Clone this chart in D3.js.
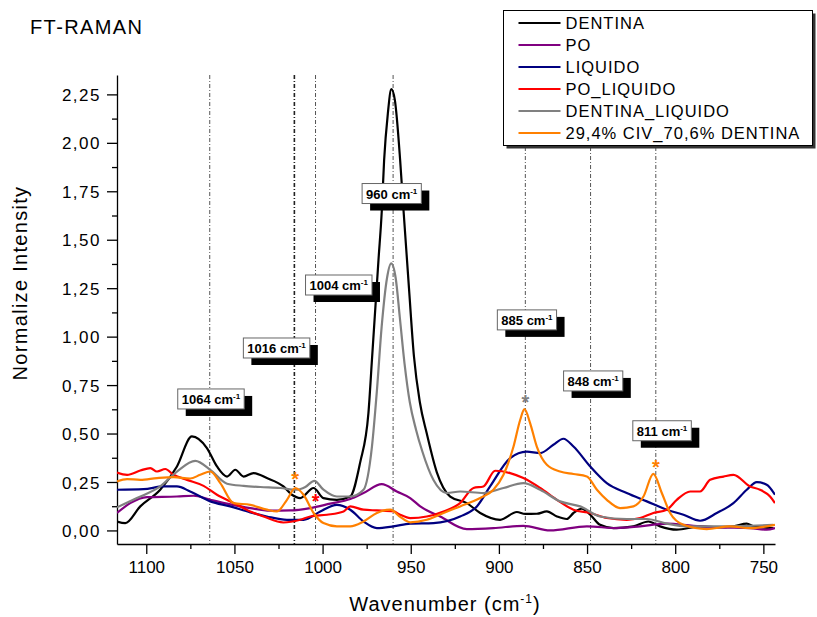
<!DOCTYPE html>
<html>
<head>
<meta charset="utf-8">
<script src="https://cdnjs.cloudflare.com/ajax/libs/d3/7.8.5/d3.min.js"></script>
<style>
  body { margin: 0; background: #fff; }
  text { font-family: "Liberation Sans", Arial, sans-serif; }
</style>
</head>
<body>
<div id="chart"></div>
<script>
// ---- data (wavenumber cm-1, normalized intensity) ----
const dentina = [[1116.6,0.046],[1111.9,0.038],[1103.4,0.124],[1092.1,0.21],[1082.6,0.33],[1074.1,0.485],[1065.6,0.425],[1059.9,0.33],[1054.2,0.278],[1049.5,0.313],[1044.8,0.278],[1039.2,0.296],[1031.6,0.27],[1022.2,0.227],[1017.4,0.184],[1012.7,0.167],[1005.1,0.219],[999.5,0.167],[991.9,0.158],[984.3,0.175],[978.7,0.35],[974.0,0.605],[972.0,0.88],[968.3,1.395],[966.4,1.652],[965.1,1.91],[963,2.15],[961,2.277],[959,2.22],[956,1.91],[954.1,1.652],[951,1.25],[948.2,0.9],[944.8,0.66],[940.9,0.5],[935.2,0.3],[927.6,0.175],[918.2,0.141],[910.6,0.09],[899.3,0.055],[889.8,0.095],[885.1,0.085],[878.5,0.086],[872.8,0.098],[867.1,0.072],[861.5,0.059],[857.7,0.09],[853.0,0.112],[848.2,0.081],[842.6,0.029],[835.0,0.012],[823.7,0.021],[815.2,0.046],[808.6,0.021],[799.1,0.004],[785.9,0.021],[776.4,0.016],[767.0,0.021],[759.4,0.035],[755.6,0.021],[744.3,0.012]];

const po = [[1116.6,0.09],[1109.1,0.141],[1099.6,0.172],[1082.6,0.175],[1073.2,0.179],[1063.7,0.158],[1054.2,0.138],[1041.0,0.115],[1029.7,0.102],[1018.4,0.103],[1007.0,0.115],[995.7,0.138],[984.3,0.162],[976.8,0.193],[966.4,0.239],[957.9,0.201],[950.3,0.167],[944.6,0.124],[933.3,0.072],[918.2,0.007],[903.1,0.012],[886.1,0.024],[871.0,0.0],[850.1,0.021],[833.1,0.012],[819.9,0.021],[804.8,0.035],[789.7,0.024],[774.6,0.016],[757.5,0.012],[748.1,0.004],[743.4,0.012]];

const liquido = [[1116.6,0.21],[1101.5,0.213],[1090.2,0.227],[1082.6,0.227],[1075.1,0.201],[1063.7,0.15],[1052.4,0.124],[1041.0,0.093],[1031.6,0.072],[1020.2,0.055],[1010.8,0.055],[1001.3,0.098],[991.9,0.132],[984.3,0.107],[976.8,0.046],[969.2,0.012],[959.8,0.021],[950.3,0.035],[937.1,0.038],[922.0,0.072],[912.5,0.124],[905.0,0.227],[893.6,0.373],[884.2,0.407],[876.6,0.399],[869.1,0.442],[863.4,0.473],[857.7,0.433],[848.2,0.33],[838.8,0.244],[827.5,0.193],[816.1,0.15],[804.8,0.107],[795.3,0.081],[785.9,0.05],[776.4,0.09],[767.0,0.141],[759.4,0.21],[753.7,0.249],[748.1,0.236],[743.4,0.184]];

const poLiquido = [[1116.6,0.299],[1110.9,0.287],[1103.4,0.309],[1097.7,0.322],[1093.9,0.304],[1089.2,0.317],[1084.5,0.287],[1076.9,0.261],[1067.5,0.23],[1059.9,0.184],[1050.5,0.141],[1041.0,0.098],[1033.5,0.072],[1022.2,0.041],[1012.7,0.055],[1007.0,0.072],[997.5,0.081],[988.1,0.098],[984.3,0.124],[976.8,0.107],[969.2,0.103],[959.8,0.098],[956,0.081],[950.3,0.064],[940.9,0.072],[931.4,0.098],[922.0,0.141],[914.4,0.219],[908.8,0.227],[902.1,0.308],[893.6,0.296],[886.1,0.27],[876.6,0.219],[867.1,0.158],[857.7,0.107],[848.2,0.09],[838.8,0.064],[827.5,0.055],[819.9,0.064],[812.4,0.09],[804.8,0.107],[799.1,0.158],[791.5,0.201],[785.9,0.201],[780.2,0.261],[772.6,0.278],[767.0,0.287],[757.5,0.227],[751.9,0.21],[746.2,0.175],[743.4,0.141]];

const dentinaLiquido = [[1116.6,0.119],[1105.3,0.167],[1092.1,0.227],[1082.6,0.304],[1072.2,0.359],[1063.7,0.313],[1054.2,0.241],[1044.8,0.23],[1035.4,0.224],[1024.0,0.219],[1014.6,0.21],[1009.8,0.224],[1004.7,0.256],[999.5,0.21],[991.9,0.175],[984.3,0.175],[976.8,0.21],[972.0,0.433],[969.2,0.72],[966.5,1.05],[963.5,1.3],[961.1,1.378],[958.5,1.3],[956.2,1.1],[953.5,0.86],[950.5,0.66],[947,0.52],[943.5,0.41],[937.1,0.26],[929.5,0.193],[922.0,0.201],[908.8,0.193],[897.4,0.219],[886.1,0.244],[876.6,0.21],[865.3,0.15],[853.9,0.124],[842.6,0.072],[827.5,0.059],[816.1,0.059],[804.8,0.035],[793.4,0.021],[776.4,0.021],[757.5,0.024],[744.3,0.029]];

const civDentina = [[1116.6,0.253],[1110.9,0.265],[1103.4,0.261],[1093.9,0.27],[1084.5,0.275],[1075.1,0.268],[1069.4,0.287],[1063.7,0.304],[1058.0,0.244],[1050.5,0.141],[1041.0,0.132],[1031.6,0.107],[1025.9,0.098],[1020.2,0.158],[1015.5,0.219],[1010.8,0.184],[1005.1,0.09],[999.5,0.038],[991.9,0.021],[984.3,0.021],[976.8,0.046],[969.2,0.09],[961.6,0.107],[956.0,0.07],[950.3,0.042],[940.9,0.055],[931.4,0.09],[922.0,0.124],[910.6,0.167],[903.1,0.21],[897.4,0.287],[891.7,0.433],[887.9,0.571],[885.5,0.626],[882.3,0.554],[878.5,0.433],[872.8,0.339],[865.3,0.304],[857.7,0.291],[850.1,0.278],[844.4,0.21],[838.8,0.158],[831.2,0.115],[823.7,0.124],[818.0,0.175],[812.4,0.292],[807.6,0.193],[802.9,0.09],[795.3,0.029],[782.1,0.007],[768.9,0.021],[757.5,0.012],[743.4,0.029]];

const seriesNames = ["DENTINA", "PO", "LIQUIDO", "PO_LIQUIDO", "DENTINA_LIQUIDO", "29,4% CIV_70,6% DENTINA"];
const seriesData = [dentina, po, liquido, poLiquido, dentinaLiquido, civDentina];
const seriesColors = ["#000000", "#800080", "#000080", "#ff0000", "#808080", "#ff8000"];

const xTicks = [1100, 1050, 1000, 950, 900, 850, 800, 750];
const yTicks = [0, 0.25, 0.5, 0.75, 1, 1.25, 1.5, 1.75, 2, 2.25];

// marked bands and asterisks
const peaks = [1064, 1016, 1004, 960, 885, 848, 811];
const starX = [1015.5, 1004, 885, 811];
const starY = [0.288, 0.174, 0.684, 0.35];
const starColors = ["#ff8000", "#ff0000", "#808080", "#ff8000"];

// where each peak label box sits (offset from its line, top edge in y units)
const labelDx = [-32, -51, -10, -31, -28, -27, -23];
const labelTop = [0.73, 0.993, 1.318, 1.79, 1.138, 0.823, 0.566];

// ---- layout ----
let svgWidth = 817, svgHeight = 617;
let margin = { top: 75, right: 42, bottom: 73, left: 117 };
let width = svgWidth - margin.left - margin.right;
let height = svgHeight - margin.top - margin.bottom;

let svg = d3.select("#chart").append("svg")
    .attr("width", svgWidth)
    .attr("height", svgHeight);

let chartGroup = svg.append("g")
    .attr("transform", `translate(${margin.left}, ${margin.top})`);

let x = d3.scaleLinear().domain([1116.6, 743.4]).range([0, width]);
let y = d3.scaleLinear().domain([-0.07, 2.35]).range([height, 0]);

svg.append("defs").append("clipPath").attr("id", "plotClip")
  .append("rect").attr("width", width).attr("height", height);

// x axis: minor then major
let xMinor = d3.range(1100, 740, -25).filter(v => v % 50 !== 0);
chartGroup.append("g")
    .attr("transform", `translate(0, ${height})`)
    .call(d3.axisBottom(x).tickValues(xMinor).tickSize(5).tickFormat(""))
    .call(g => g.select(".domain").remove());

let xAxis = chartGroup.append("g")
    .attr("transform", `translate(0, ${height})`)
    .call(d3.axisBottom(x).tickValues(xTicks).tickSize(10).tickSizeOuter(0).tickFormat(d3.format("d")));
xAxis.selectAll("text").attr("y", 29).attr("dy", 0)
    .attr("font-size", "17px").attr("fill", "#000").attr("font-family", null);

// y axis
let yMinor = d3.range(0.125, 2.35, 0.25);
chartGroup.append("g")
    .call(d3.axisLeft(y).tickValues(yMinor).tickSize(5).tickFormat(""))
    .call(g => g.select(".domain").remove());

let yAxis = chartGroup.append("g")
    .call(d3.axisLeft(y).tickValues(yTicks).tickSize(10).tickSizeOuter(0)
      .tickFormat(d => d3.format(".2f")(d).replace(".", ",")));
yAxis.selectAll("text").attr("x", -16).attr("dy", "0.36em")
    .attr("font-size", "17px").attr("letter-spacing", "1.5px")
    .attr("fill", "#000").attr("font-family", null);

chartGroup.selectAll(".domain, .tick line").attr("stroke", "#000").attr("stroke-width", 1.3);

// dash-dot marker lines
chartGroup.selectAll(".peakLine")
    .data(peaks)
    .enter()
    .append("line")
    .attr("x1", d => x(d)).attr("x2", d => x(d))
    .attr("y1", 0).attr("y2", height)
    .attr("stroke", (d, i) => i === 1 ? "#222" : "#555")
    .attr("stroke-width", (d, i) => i === 1 ? 1.6 : 1)
    .attr("stroke-dasharray", "4,2,1,2");

// spectra
let line = d3.line()
    .x(d => x(d[0]))
    .y(d => y(d[1]))
    .curve(d3.curveMonotoneX);

chartGroup.append("g").attr("clip-path", "url(#plotClip)")
  .selectAll("path")
    .data(seriesData)
    .enter()
    .append("path")
    .attr("d", d => line(d.slice().sort((a, b) => a[0] - b[0])))
    .attr("fill", "none")
    .attr("stroke", (d, i) => seriesColors[i])
    .attr("stroke-width", 2.2)
    .attr("stroke-linejoin", "round");

// asterisks
chartGroup.selectAll(".star")
    .data(starX)
    .enter()
    .append("text")
    .attr("x", d => x(d))
    .attr("y", (d, i) => y(starY[i]) + 11)
    .attr("text-anchor", "middle")
    .attr("font-size", "20px")
    .attr("font-weight", "bold")
    .attr("fill", (d, i) => starColors[i])
    .text("*");

// peak label boxes with drop shadow
peaks.forEach(function (p, i) {
    let g = chartGroup.append("g")
        .attr("transform", `translate(${x(p) + labelDx[i]}, ${y(labelTop[i])})`);
    let shadow = g.append("rect").attr("fill", "#000");
    let box = g.append("rect").attr("fill", "#fff").attr("stroke", "#666").attr("stroke-width", 1);
    let t = g.append("text")
        .attr("x", 4).attr("y", 15)
        .attr("font-size", "13px").attr("font-weight", "bold");
    t.append("tspan").text(p + " cm");
    t.append("tspan").attr("dy", -5).attr("font-size", "8px").text("-1");
    let w = t.node().getComputedTextLength() + 8;
    box.attr("width", w).attr("height", 20);
    shadow.attr("x", 8).attr("y", 7).attr("width", w).attr("height", 20);
});

// titles
svg.append("text")
    .attr("x", 30).attr("y", 34)
    .attr("font-size", "20px").attr("letter-spacing", "1.4px")
    .text("FT-RAMAN");

svg.append("text")
    .attr("transform", "translate(27, 283) rotate(-90)")
    .attr("text-anchor", "middle")
    .attr("font-size", "20px").attr("letter-spacing", "1.3px")
    .text("Normalize Intensity");

let xTitle = svg.append("text")
    .attr("x", 445).attr("y", 611)
    .attr("text-anchor", "middle")
    .attr("font-size", "20px").attr("letter-spacing", "1px");
xTitle.append("tspan").text("Wavenumber (cm");
xTitle.append("tspan").attr("dy", -8).attr("font-size", "12px").text("-1");
xTitle.append("tspan").attr("dy", 8).text(")");

// legend
let legend = svg.append("g").attr("transform", "translate(503.5, 10.5)");
legend.append("rect").attr("x", 3).attr("y", 3).attr("width", 309).attr("height", 135).attr("fill", "#333");
legend.append("rect").attr("width", 309).attr("height", 135)
    .attr("fill", "#fff").attr("stroke", "#000").attr("stroke-width", 1);

seriesNames.forEach(function (name, i) {
    let cy = 12.5 + i * 22;
    legend.append("line")
        .attr("x1", 15).attr("x2", 57)
        .attr("y1", cy).attr("y2", cy)
        .attr("stroke", seriesColors[i]).attr("stroke-width", 2.2);
    legend.append("text")
        .attr("x", 62).attr("y", cy + 5.8)
        .attr("font-size", "16.5px").attr("letter-spacing", "1px")
        .text(name);
});
</script>
</body>
</html>
